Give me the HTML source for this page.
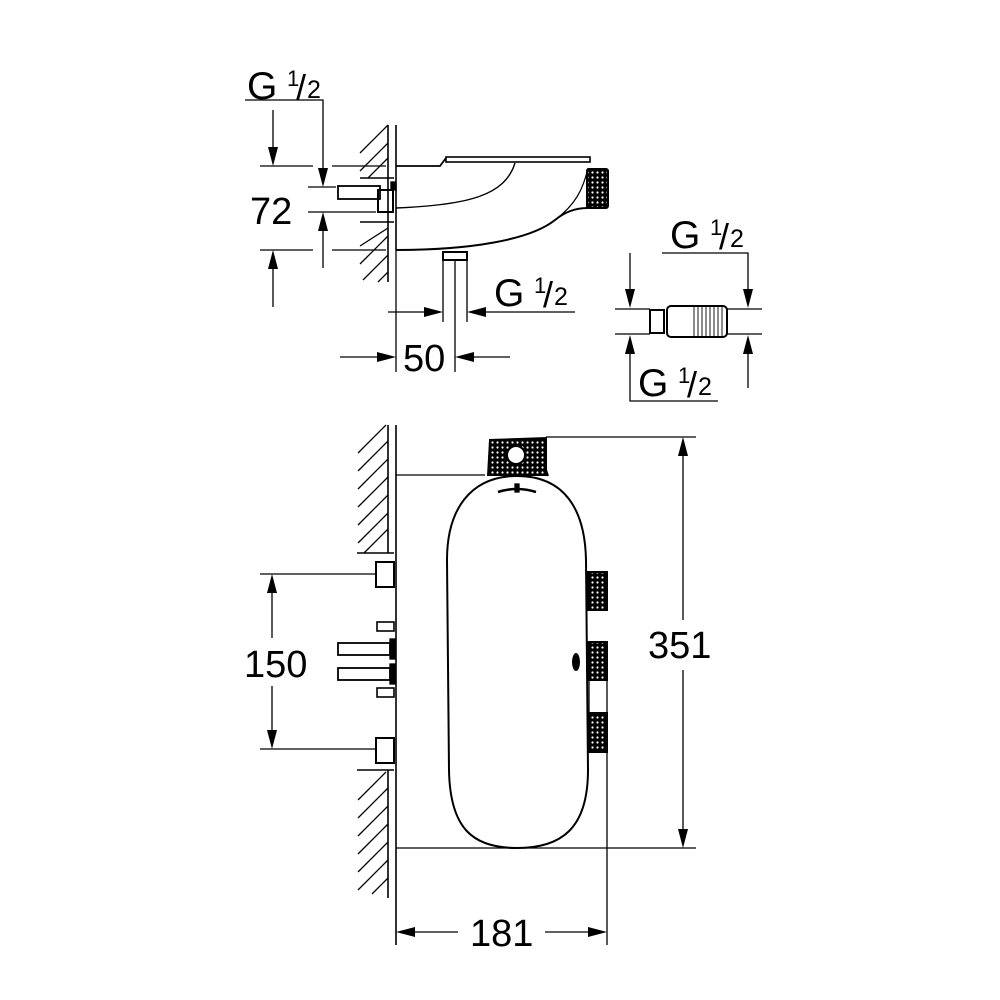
<!DOCTYPE html>
<html><head><meta charset="utf-8"><style>
html,body{margin:0;padding:0;background:#fff}
svg{display:block}
text{font-family:"Liberation Sans",Arial,sans-serif;fill:#000}
</style></head><body>
<svg width="1000" height="1000" viewBox="0 0 1000 1000" xmlns="http://www.w3.org/2000/svg">
<defs>
<pattern id="kn" width="5" height="5" patternUnits="userSpaceOnUse">
<rect width="5" height="5" fill="#000"/><circle cx="2.5" cy="2.5" r="1.1" fill="#fff"/>
</pattern>
</defs>
<g stroke="#000" fill="none" stroke-width="1.3">
<polyline points="245,100 323,100 323,170"/>
<polygon points="323,187 318,168 328,168" fill="#000" stroke="none"/>
<line x1="273" y1="110" x2="273" y2="150"/>
<polygon points="273,166 268,147 278,147" fill="#000" stroke="none"/>
<line x1="273" y1="307" x2="273" y2="266"/>
<polygon points="273,250 268,269 278,269" fill="#000" stroke="none"/>
<line x1="323" y1="268" x2="323" y2="228"/>
<polygon points="323,212 318,231 328,231" fill="#000" stroke="none"/>
<line x1="260" y1="166" x2="313" y2="166"/><line x1="332" y1="166" x2="386" y2="166"/>
<line x1="308" y1="187" x2="336" y2="187"/>
<line x1="308" y1="212" x2="376" y2="212"/>
<line x1="260" y1="250" x2="313" y2="250"/><line x1="332" y1="250" x2="386" y2="250"/>
<line x1="388" y1="125" x2="388" y2="282" stroke-width="1.6"/>
<line x1="396" y1="125" x2="396" y2="250" stroke-width="1.6"/>
<line x1="396" y1="250" x2="396" y2="372" stroke-width="1.3"/>
<line x1="360" y1="178" x2="394" y2="178" stroke-width="1.6"/>
<line x1="360" y1="222" x2="394" y2="222" stroke-width="1.6"/>
<g stroke-width="1.3">
<line x1="360" y1="153" x2="388" y2="125"/><line x1="360" y1="171" x2="388" y2="143"/>
<line x1="368" y1="178" x2="388" y2="158"/>
<line x1="360" y1="246" x2="388" y2="228"/><line x1="360" y1="264" x2="388" y2="236"/>
<line x1="363" y1="280" x2="388" y2="255"/><line x1="378" y1="282" x2="388" y2="272"/>
</g>
<rect x="338" y="186" width="42" height="13" stroke-width="1.8"/>
<rect x="378" y="190" width="15" height="22" stroke-width="2"/>
<rect x="391" y="182" width="5" height="8" fill="#000"/>
<path d="M396,166 L440,166 L446,158" stroke-width="1.8"/>
<rect x="446" y="157" width="144" height="5" stroke-width="1.6"/>
<path d="M515,163 C505,195 470,205 396,208" stroke-width="1.4"/>
<path d="M588,168 C583,190 575,205 555,220" stroke-width="1.2"/>
<path d="M396,250 C470,250 530,240 555,220 C565,212 575,208 588,208" stroke-width="2"/>
<rect x="587" y="169" width="21" height="39" rx="2" fill="url(#kn)" stroke-width="2"/>
<rect x="443" y="252" width="24" height="8" stroke-width="2"/>
<line x1="443" y1="260" x2="443" y2="322"/>
<line x1="467" y1="260" x2="467" y2="322"/>
<line x1="455" y1="260" x2="455" y2="372"/>
<line x1="388" y1="312" x2="428" y2="312"/>
<polygon points="443,312 424,307 424,317" fill="#000" stroke="none"/>
<line x1="482" y1="312" x2="575" y2="312"/>
<polygon points="467,312 486,307 486,317" fill="#000" stroke="none"/>
<line x1="340" y1="357" x2="380" y2="357"/>
<polygon points="396,357 377,352 377,362" fill="#000" stroke="none"/>
<line x1="470" y1="357" x2="510" y2="357"/>
<polygon points="455,357 474,352 474,362" fill="#000" stroke="none"/>

<polyline points="662,253 748,253 748,292"/>
<polygon points="748,308 743,289 753,289" fill="#000" stroke="none"/>
<line x1="630" y1="253" x2="630" y2="292"/>
<polygon points="630,308 625,289 635,289" fill="#000" stroke="none"/>
<line x1="615" y1="309" x2="650" y2="309"/><line x1="727" y1="309" x2="762" y2="309"/>
<line x1="615" y1="334" x2="650" y2="334"/><line x1="727" y1="334" x2="762" y2="334"/>
<rect x="650" y="310" width="14" height="23" stroke-width="2"/>
<rect x="667" y="306" width="60" height="31" rx="4" stroke-width="2"/>
<g stroke-width="0.9">
<line x1="694" y1="307" x2="694" y2="336"/><line x1="698" y1="307" x2="698" y2="336"/>
<line x1="702" y1="307" x2="702" y2="336"/><line x1="706" y1="307" x2="706" y2="336"/>
<line x1="710" y1="307" x2="710" y2="336"/><line x1="714" y1="307" x2="714" y2="336"/>
<line x1="718" y1="307" x2="718" y2="336"/><line x1="722" y1="307" x2="722" y2="336"/>
</g>
<polyline points="630,351 630,401 718,401"/>
<polygon points="630,335 625,354 635,354" fill="#000" stroke="none"/>
<line x1="748" y1="351" x2="748" y2="388"/>
<polygon points="748,335 743,354 753,354" fill="#000" stroke="none"/>

<line x1="388" y1="425" x2="388" y2="553" stroke-width="1.6"/>
<line x1="388" y1="770" x2="388" y2="898" stroke-width="1.6"/>
<line x1="396" y1="425" x2="396" y2="945" stroke-width="1.6"/>
<line x1="357" y1="553" x2="394" y2="553" stroke-width="1.6"/>
<line x1="357" y1="770" x2="394" y2="770" stroke-width="1.6"/>
<g stroke-width="1.3">
<line x1="358" y1="453" x2="386" y2="425"/><line x1="358" y1="471" x2="388" y2="441"/>
<line x1="358" y1="489" x2="388" y2="459"/><line x1="358" y1="507" x2="388" y2="477"/>
<line x1="358" y1="525" x2="388" y2="495"/><line x1="358" y1="543" x2="388" y2="513"/>
<line x1="364" y1="553" x2="388" y2="529"/>
<line x1="358" y1="800" x2="386" y2="772"/><line x1="358" y1="818" x2="388" y2="788"/>
<line x1="358" y1="836" x2="388" y2="806"/><line x1="358" y1="854" x2="388" y2="824"/>
<line x1="358" y1="872" x2="388" y2="842"/><line x1="358" y1="890" x2="388" y2="860"/>
<line x1="372" y1="894" x2="388" y2="878"/>
</g>
<line x1="396" y1="475" x2="485" y2="475"/>
<path d="M488,476 L490,440 L546,438 L546,470 L548,476" fill="url(#kn)" stroke-width="2"/>
<circle cx="516" cy="455" r="9" fill="#fff" stroke-width="2"/>
<line x1="546" y1="437" x2="696" y2="437"/>
<path d="M517,476 C565,476 585,510 586,560 L588,770 C588,830 560,848 517,848 C474,848 450,830 449,770 L447,560 C447,510 470,476 517,476 Z" stroke-width="2"/>
<path d="M498,492 Q517,486 536,492" stroke-width="2.5"/>
<rect x="515" y="484" width="4" height="8" fill="#000"/>
<ellipse cx="576" cy="662" rx="4" ry="9" fill="#000" stroke="none"/>
<rect x="588" y="572" width="19" height="38" fill="url(#kn)" stroke-width="2"/>
<rect x="588" y="642" width="19" height="38" fill="url(#kn)" stroke-width="2"/>
<rect x="588" y="713" width="19" height="39" fill="url(#kn)" stroke-width="2"/>
<line x1="607" y1="680" x2="607" y2="945"/>
<line x1="589" y1="680" x2="589" y2="713"/>
<line x1="396" y1="848" x2="696" y2="848"/>
<rect x="376" y="562" width="18" height="25" stroke-width="2"/>
<rect x="376" y="738" width="18" height="25" stroke-width="2"/>
<rect x="377" y="622" width="17" height="9" stroke-width="1.6"/>
<rect x="377" y="688" width="17" height="9" stroke-width="1.6"/>
<rect x="338" y="643" width="52" height="12" stroke-width="1.8"/>
<rect x="338" y="668" width="52" height="12" stroke-width="1.8"/>
<rect x="390" y="639" width="5" height="20" fill="#000"/>
<rect x="390" y="664" width="5" height="20" fill="#000"/>
<line x1="260" y1="574" x2="376" y2="574"/>
<line x1="260" y1="749" x2="376" y2="749"/>
<line x1="272" y1="590" x2="272" y2="638"/>
<polygon points="272,574 267,593 277,593" fill="#000" stroke="none"/>
<line x1="272" y1="686" x2="272" y2="733"/>
<polygon points="272,749 267,730 277,730" fill="#000" stroke="none"/>
<line x1="683" y1="453" x2="683" y2="620"/>
<polygon points="683,437 678,456 688,456" fill="#000" stroke="none"/>
<line x1="683" y1="670" x2="683" y2="832"/>
<polygon points="683,848 678,829 688,829" fill="#000" stroke="none"/>
<line x1="412" y1="932" x2="458" y2="932"/>
<polygon points="396,932 415,927 415,937" fill="#000" stroke="none"/>
<line x1="545" y1="932" x2="591" y2="932"/>
<polygon points="607,932 588,927 588,937" fill="#000" stroke="none"/>
</g>
<text x="247" y="99" font-size="39">G</text><text x="287" y="86" font-size="22">1</text><text x="296" y="100" font-size="36">/</text><text x="307" y="98" font-size="25">2</text>
<text x="250" y="224" font-size="38">72</text>
<text x="494" y="306" font-size="39">G</text><text x="534" y="293" font-size="22">1</text><text x="543" y="307" font-size="36">/</text><text x="554" y="305" font-size="25">2</text>
<text x="403" y="371" font-size="38">50</text>
<text x="670" y="248" font-size="39">G</text><text x="710" y="235" font-size="22">1</text><text x="719" y="249" font-size="36">/</text><text x="730" y="247" font-size="25">2</text>
<text x="638" y="396" font-size="39">G</text><text x="678" y="383" font-size="22">1</text><text x="687" y="397" font-size="36">/</text><text x="698" y="395" font-size="25">2</text>
<text x="244" y="677" font-size="38">150</text>
<text x="648" y="658" font-size="38">351</text>
<text x="470" y="946" font-size="38">181</text>
</svg>
</body></html>
